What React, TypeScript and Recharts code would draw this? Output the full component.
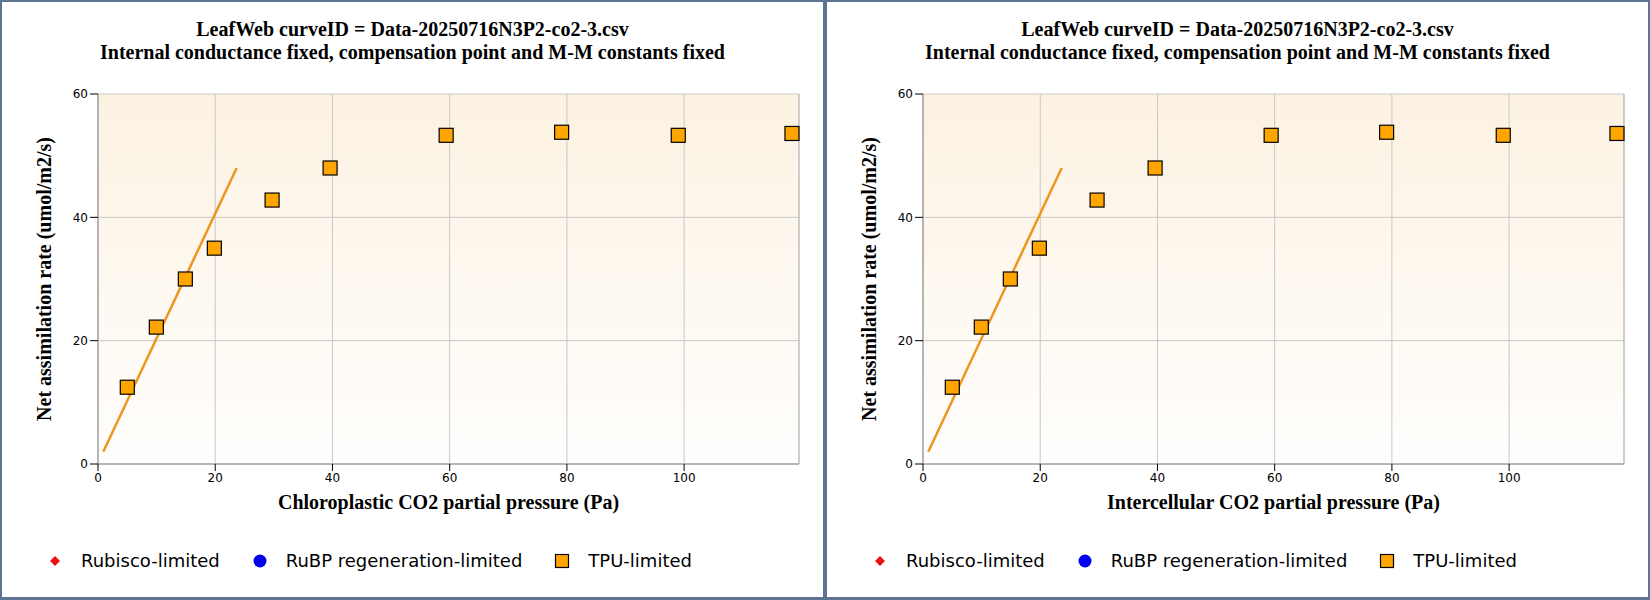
import React from 'react'
import { ScatterChart, Scatter, XAxis, YAxis, CartesianGrid, ReferenceLine } from 'recharts'

// measured CO2 partial pressure (Pa) and net assimilation (umol/m2/s)
const co2Values = [5.0, 9.95, 14.9, 19.85, 29.7, 39.6, 59.4, 79.1, 99.0, 118.4]
const assimValues = [12.45, 22.2, 30.0, 35.0, 42.8, 48.0, 53.3, 53.8, 53.3, 53.6]

// fitted limitation curve (end points)
const fitX = [0.9, 23.66]
const fitY = [2.0, 48.0]

const xTicks = [0, 20, 40, 60, 80, 100]
const yTicks = [0, 20, 40, 60]
const xMax = 119.6

const titleLines = [
  'LeafWeb curveID = Data-20250716N3P2-co2-3.csv',
  'Internal conductance fixed, compensation point and M-M constants fixed',
]
const panelXLabels = ['Chloroplastic CO2 partial pressure (Pa)', 'Intercellular CO2 partial pressure (Pa)']
const yLabel = 'Net assimilation rate (umol/m2/s)'

const legendItems = [
  { name: 'Rubisco-limited', kind: 'diamond', color: '#ee1111' },
  { name: 'RuBP regeneration-limited', kind: 'circle', color: '#0000ee' },
  { name: 'TPU-limited', kind: 'square', color: '#ffa500' },
]

const points = co2Values.map((x, i) => ({ x, y: assimValues[i] }))
const fitLine = fitX.map((x, i) => ({ x, y: fitY[i] }))

const serif = '"Liberation Serif", "Times New Roman", serif'
const sans = '"DejaVu Sans", Tahoma, sans-serif'

function SquareDot(props: any) {
  const { cx, cy } = props
  if (cx == null || cy == null) return null
  return <rect x={cx - 7} y={cy - 7} width={14} height={14} fill="#ffa500" stroke="#000" strokeWidth={1.2} />
}

function LegendMark({ kind, color }: { kind: string; color: string }) {
  return (
    <svg width={16} height={16} style={{ display: 'block' }}>
      {kind === 'diamond' && <polygon points="8,3 13,8 8,13 3,8" fill={color} />}
      {kind === 'circle' && <circle cx={8} cy={8} r={6.5} fill={color} />}
      {kind === 'square' && <rect x={1.5} y={1.5} width={13} height={13} fill={color} stroke="#000" strokeWidth={1.2} />}
    </svg>
  )
}

function Panel({ xLabel, left, gradId }: { xLabel: string; left: number; gradId: string }) {
  return (
    <div style={{ position: 'absolute', left, top: 0, width: 825, height: 600, background: '#fff' }}>
      <div
        style={{
          position: 'absolute',
          left: 0,
          top: 18,
          width: 825,
          textAlign: 'center',
          fontFamily: serif,
          fontWeight: 'bold',
          fontSize: 20,
          lineHeight: '23px',
          color: '#000',
        }}
      >
        {titleLines.map((t) => (
          <div key={t}>{t}</div>
        ))}
      </div>

      <div style={{ position: 'absolute', left: 0, top: 0 }}>
        <ScatterChart width={825} height={600} margin={{ top: 94, right: 26, bottom: 106, left: 48 }}>
          <defs>
            <linearGradient id={gradId} x1="0" y1="0" x2="0" y2="1">
              <stop offset="0%" stopColor="#fcf2e2" />
              <stop offset="100%" stopColor="#fffefd" />
            </linearGradient>
          </defs>
          <CartesianGrid fill={`url(#${gradId})`} stroke="#c8c8c8" />
          <XAxis
            type="number"
            dataKey="x"
            domain={[0, xMax]}
            ticks={xTicks}
            height={30}
            tickSize={7}
            tick={{ fontSize: 12, fill: '#000', fontFamily: sans }}
            axisLine={{ stroke: '#888' }}
            tickLine={{ stroke: '#000' }}
            label={{
              value: xLabel,
              position: 'bottom',
              offset: 1,
              style: { fontFamily: serif, fontWeight: 'bold', fontSize: 20, fill: '#000' },
            }}
          />
          <YAxis
            type="number"
            dataKey="y"
            domain={[0, 60]}
            ticks={yTicks}
            width={50}
            tickSize={8}
            tick={{ fontSize: 12, fill: '#000', fontFamily: sans }}
            axisLine={{ stroke: '#888' }}
            tickLine={{ stroke: '#000' }}
            label={{
              value: yLabel,
              angle: -90,
              position: 'left',
              offset: 4,
              style: { textAnchor: 'middle', fontFamily: serif, fontWeight: 'bold', fontSize: 20, fill: '#000' },
            }}
          />
          <ReferenceLine x={xMax} stroke="#bbb" />
          <Scatter
            data={fitLine}
            line={{ stroke: '#ee951f', strokeWidth: 2.5 }}
            lineType="joint"
            shape={() => <g />}
            isAnimationActive={false}
          />
          <Scatter data={points} shape={<SquareDot />} isAnimationActive={false} />
        </ScatterChart>
      </div>

      <div
        style={{
          position: 'absolute',
          left: 47,
          top: 550,
          display: 'flex',
          alignItems: 'center',
          fontFamily: sans,
          fontSize: 18,
          color: '#000',
        }}
      >
        {legendItems.map((it) => (
          <div key={it.name} style={{ display: 'flex', alignItems: 'center', marginRight: 32 }}>
            <LegendMark kind={it.kind} color={it.color} />
            <span style={{ marginLeft: 18 }}>{it.name}</span>
          </div>
        ))}
      </div>

      <div
        style={{
          position: 'absolute',
          left: 0,
          top: 0,
          width: 825,
          height: 600,
          boxSizing: 'border-box',
          border: '2px solid #5d7593',
          borderBottomWidth: 3,
          pointerEvents: 'none',
        }}
      />
    </div>
  )
}

export default function App() {
  return (
    <div style={{ position: 'absolute', left: 0, top: 0, width: 1650, height: 600, background: '#fff' }}>
      <Panel xLabel={panelXLabels[0]} left={0} gradId="bgLeft" />
      <Panel xLabel={panelXLabels[1]} left={825} gradId="bgRight" />
    </div>
  )
}
